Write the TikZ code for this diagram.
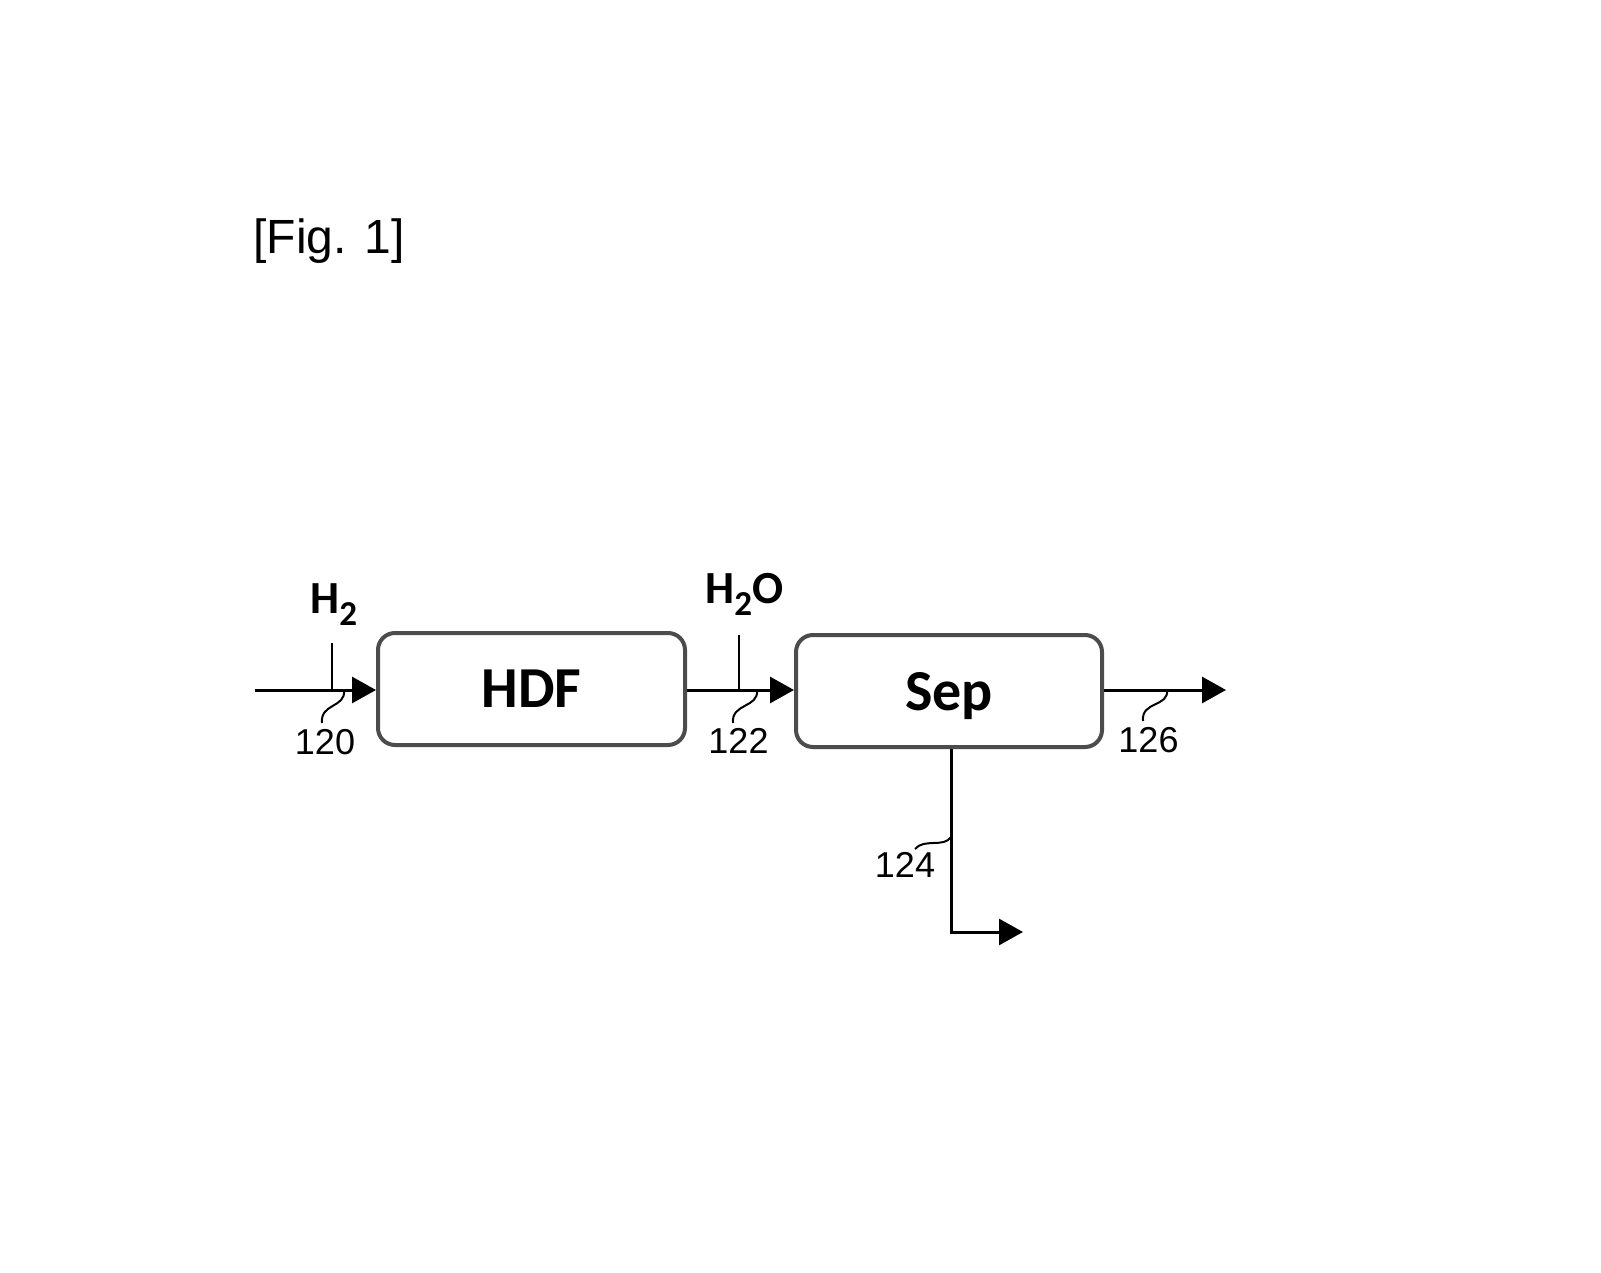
\documentclass[tikz,border=0pt]{standalone}
\usepackage{fontspec}
\setmainfont{Liberation Sans}
\newfontfamily\boxfont{Carlito}
\usetikzlibrary{arrows.meta}
\tikzset{
  unitbox/.style={draw=black!70, line width=2pt, rounded corners=8.5pt, minimum width=153.5pt, minimum height=56pt, inner sep=0pt, text depth=0pt, font=\boxfont\bfseries\fontsize{29}{32}\selectfont},
  flow/.style={line width=1.5pt, -{Triangle[length=12pt,width=13pt]}},
  plain/.style={line width=1.3pt},
  leader/.style={line width=1pt},
  reflabel/.style={inner sep=0pt, font=\fontsize{18}{21}\selectfont},
  chem/.style={inner sep=0pt, anchor=base west, font=\boxfont\bfseries\fontsize{23}{26}\selectfont}
}
\newcommand{\subtwo}{\raisebox{-6pt}{\fontsize{17.5}{20}\selectfont 2}}
\begin{document}
\begin{tikzpicture}[x=0.5pt,y=-0.5pt]
\useasboundingbox (0,0) rectangle (1601,1273);
\node[anchor=base west, inner sep=0pt, font=\fontsize{24}{28}\selectfont] (fig) at (253,254) {[Fig. 1]};
% boxes
\node[unitbox] (hdf) at (531.5,689) {HDF};
\node[unitbox, minimum width=153pt] (sep) at (949,691) {Sep};
% coordinates
\coordinate (in0) at (255,690);
\coordinate (h2top) at (332,643);
\coordinate (h2bot) at (332,690);
\coordinate (wtop) at (739,635);
\coordinate (wbot) at (739,690);
\coordinate (out1) at (1226,690);
\coordinate (b1) at (951,747);
\coordinate (b2) at (951,932);
\coordinate (out2) at (1023,932);
% flows
\draw[flow] (in0) -- (hdf.west |- in0);
\draw[plain] (h2top) -- (h2bot);
\draw[flow] (hdf.east |- wbot) -- (sep.west |- wbot);
\draw[plain] (wtop) -- (wbot);
\draw[flow] (sep.east |- out1) -- (out1);
\draw[flow] (sep.south -| b1) -- (b2) -- (out2);
% chemical labels
\node[chem] (h2) at (310,613) {H\subtwo};
\node[chem] (h2o) at (705,603) {H\subtwo O};
% reference labels
\node[reflabel] (l120) at (325,742) {120};
\node[reflabel] (l122) at (738.5,741) {122};
\node[reflabel] (l126) at (1148.5,740) {126};
\node[reflabel] (l124) at (905,865) {124};
% leaders
\draw[leader] (344,690) .. controls (346,708) and (320,703) .. (322,723);
\draw[leader] (757,690) .. controls (759,708) and (731,703) .. (733,723);
\draw[leader] (1167,690) .. controls (1169,707) and (1141,701) .. (1143,721);
\draw[leader] (951,837) .. controls (944,848) and (924,838) .. (915,849);
\end{tikzpicture}
\end{document}
